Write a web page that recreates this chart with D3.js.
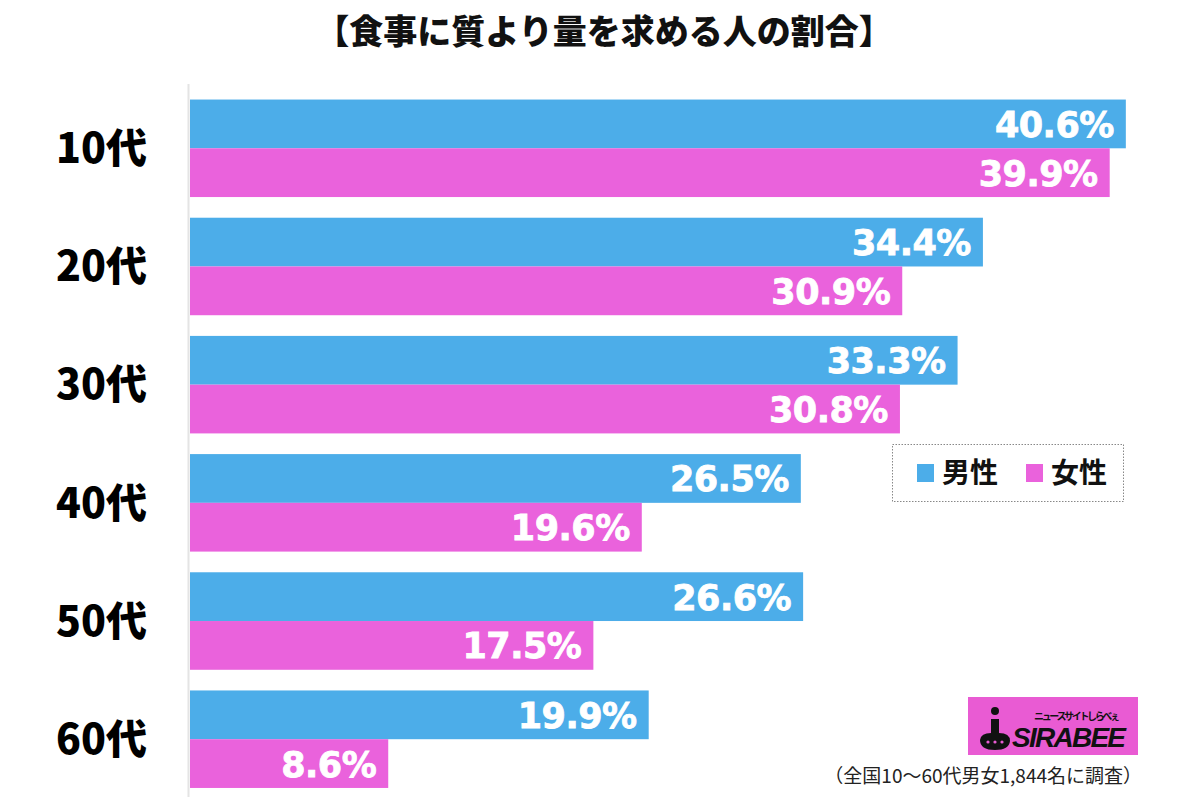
<!DOCTYPE html>
<html><head><meta charset="utf-8">
<script src="https://cdn.jsdelivr.net/npm/d3@7"></script>
<style>
html,body{margin:0;padding:0;background:#fff;}
svg{display:block;}
</style></head>
<body>
<svg id="chart" width="1200" height="797"></svg>
<script>
const title = "【食事に質より量を求める人の割合】";
const categories = ["10代","20代","30代","40代","50代","60代"];
const seriesNames = ["男性","女性"];
const maleValues = [40.6, 34.4, 33.3, 26.5, 26.6, 19.9];
const femaleValues = [39.9, 30.9, 30.8, 19.6, 17.5, 8.6];
const colors = ["#4cade9", "#ea62dc"];
const footnote = "（全国10〜60代男女1,844名に調査）";

const svg = d3.select("#chart");
const jp = "'Noto Sans CJK JP','Noto Sans',sans-serif";

const x = d3.scaleLinear().domain([0, 50]).range([190, 190 + 23.05 * 50]);
const y = d3.scaleBand().domain(categories).range([89.2, 798.3]).paddingInner(0.175).paddingOuter(0.0875);
const sub = d3.scaleBand().domain(seriesNames).range([0, y.bandwidth()]);

// title
svg.append("text").attr("x", 604).attr("y", 44).attr("text-anchor", "middle")
  .attr("font-family", jp).attr("font-weight", 900).attr("font-size", 34).attr("fill", "#111")
  .text(title);

// axis line
svg.append("line").attr("x1", 188.5).attr("x2", 188.5).attr("y1", 84).attr("y2", 797)
  .attr("stroke", "#e4e4e4").attr("stroke-width", 2);

const data = [];
categories.forEach((c, i) => {
  data.push({cat: c, s: seriesNames[0], v: maleValues[i], col: colors[0]});
  data.push({cat: c, s: seriesNames[1], v: femaleValues[i], col: colors[1]});
});

svg.append("g").selectAll("rect").data(data).join("rect")
  .attr("x", x(0)).attr("y", d => y(d.cat) + sub(d.s))
  .attr("width", d => x(d.v) - x(0)).attr("height", sub.bandwidth())
  .attr("fill", d => d.col);

svg.append("g").selectAll("text").data(data).join("text")
  .attr("x", d => x(d.v) - 12).attr("y", d => y(d.cat) + sub(d.s) + sub.bandwidth() / 2)
  .attr("dy", "0.37em").attr("text-anchor", "end")
  .attr("font-family", "'DejaVu Sans',sans-serif").attr("font-weight", "bold").attr("font-size", 35)
  .attr("letter-spacing", -0.5)
  .attr("fill", "#fff").attr("stroke", "#fff").attr("stroke-width", 0.8)
  .text(d => d.v.toFixed(1) + "%");

// category axis
const yAxis = d3.axisLeft(y).tickSize(0).tickPadding(0);
const ga = svg.append("g").attr("transform", "translate(147,0)").call(yAxis);
ga.select(".domain").remove();
ga.selectAll("text").attr("font-family", jp).attr("font-weight", 900).attr("font-size", 41)
  .attr("fill", "#000").attr("dy", "0.36em");

// legend
const lg = svg.append("g");
lg.append("rect").attr("x", 892.5).attr("y", 444.5).attr("width", 231).attr("height", 57)
  .attr("fill", "#fff").attr("stroke", "#888").attr("stroke-width", 1).attr("stroke-dasharray", "1.5,1.5");
const legX = [917, 1026];
seriesNames.forEach((n, i) => {
  lg.append("rect").attr("x", legX[i]).attr("y", 464).attr("width", 17).attr("height", 18).attr("fill", colors[i]);
  lg.append("text").attr("x", legX[i] + 25).attr("y", 483).attr("font-family", jp).attr("font-weight", 700)
    .attr("font-size", 28).attr("fill", "#111").text(n);
});

// logo
const logo = svg.append("g");
logo.append("rect").attr("x", 968).attr("y", 697).attr("width", 170).attr("height", 58).attr("fill", "#e95bd3");
logo.append("text").attr("x", 1012).attr("y", 747).attr("font-family", "'Liberation Sans',sans-serif")
  .attr("font-weight", "bold").attr("font-style", "italic").attr("font-size", 28).attr("fill", "#111")
  .attr("textLength", 114).text("SIRABEE");
logo.append("text").attr("x", 1034).attr("y", 720).attr("font-family", jp).attr("font-weight", 700)
  .attr("font-size", 10).attr("fill", "#111").attr("textLength", 86).text("ニュースサイトしらべぇ");
logo.append("circle").attr("cx", 995).attr("cy", 711).attr("r", 4).attr("fill", "#111");
logo.append("path").attr("d", "M991,719 L999,719 L999,733 Q1010,733 1010,741 Q1009,750 995,750 Q980,750 980,740 Q981,733 991,733 Z")
  .attr("fill", "#111");
logo.selectAll("circle.eye").data([988, 995, 1002]).join("circle").attr("class", "eye")
  .attr("cx", d => d).attr("cy", 742).attr("r", 1.6).attr("fill", "#e95bd3");

// footnote
svg.append("text").attr("x", 1142).attr("y", 783).attr("text-anchor", "end")
  .attr("font-family", jp).attr("font-size", 19).attr("fill", "#222").text(footnote);
</script>
</body></html>
